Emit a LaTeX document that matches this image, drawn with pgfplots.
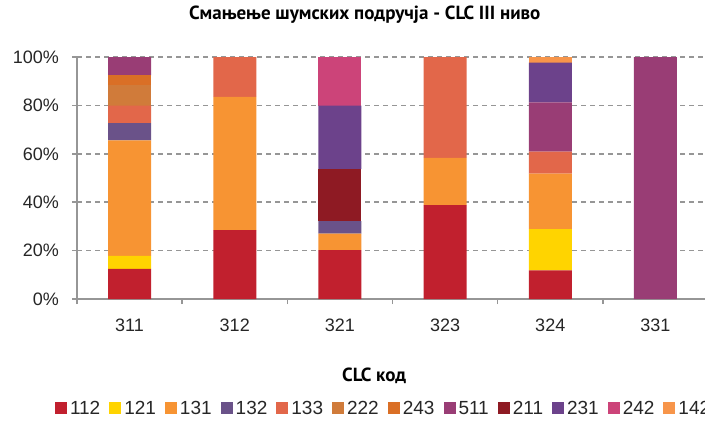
\documentclass[border=0pt]{standalone}
\usepackage{pgfplots}
\pgfplotsset{compat=1.18}
\usepackage{fontspec}
\setmainfont{Liberation Sans}
\newfontfamily\titlefont{PT Sans}
\definecolor{c112}{RGB}{193,32,46}
\definecolor{c121}{RGB}{255,212,0}
\definecolor{c131}{RGB}{247,148,51}
\definecolor{c132}{RGB}{106,82,137}
\definecolor{c133}{RGB}{226,103,74}
\definecolor{c222}{RGB}{208,123,58}
\definecolor{c243}{RGB}{218,111,38}
\definecolor{c511}{RGB}{153,61,117}
\definecolor{c211}{RGB}{142,26,35}
\definecolor{c231}{RGB}{108,66,139}
\definecolor{c242}{RGB}{204,68,121}
\definecolor{c142}{RGB}{247,149,74}
\definecolor{axgray}{RGB}{150,150,150}
\begin{document}
\begin{tikzpicture}
\useasboundingbox (0,0) rectangle (352.5pt,210pt);
\begin{axis}[
  at={(38.5pt,60.5pt)}, anchor=south west,
  scale only axis, width=315.5pt, height=121pt,
  xmin=-0.5, xmax=5.5, ymin=0, ymax=100,
  ybar stacked, bar width=21.5pt,
  axis lines=left,
  axis line style={-, axgray, line width=0.75pt},
  xtick={0,...,5}, xticklabels={311,312,321,323,324,331},
  minor xtick={-0.5,0.5,...,5.5},
  ytick={0,20,...,100},
  yticklabel={\pgfmathprintnumber{\tick}\%},
  tick align=outside, tick pos=left,
  major tick length=2.5pt, minor tick length=2.5pt,
  tick style={axgray, line width=0.75pt},
  major x tick style={draw=none},
  ymajorgrids,
  major y grid style={dash pattern=on 2.5pt off 2pt, axgray, line width=0.75pt},
  /pgf/number format/assume math mode=true,
  ticklabel style={font=\fontsize{9}{10}\selectfont, text=black!85},
  yticklabel style={xshift=-3pt},
  xticklabel style={yshift=-4pt},
  every axis title shift=0pt,
  title={Смањење шумских подручја - CLC III ниво},
  title style={at={(axis description cs:0.456,1.174)}, anchor=center, font=\titlefont\bfseries\fontsize{9.5}{11}\selectfont},
  xlabel={CLC код},
  xlabel style={at={(axis description cs:0.471,-0.318)}, anchor=center, font=\titlefont\bfseries\fontsize{9.5}{11}\selectfont},
  legend columns=-1,
  legend style={at={(axis description cs:-0.045,-0.45)}, anchor=west, draw=none, fill=none,
    font=\fontsize{9.5}{11}\selectfont, text=black!85,
    /tikz/every even column/.append style={column sep=3.0pt},
    nodes={inner sep=1.5pt, text height=1.4ex, text depth=0.1ex}},
  legend image code/.code={\fill[#1] (0pt,-3pt) rectangle (6pt,3pt);},
]
\addplot[fill=c112, draw=none] coordinates {(0,12.5) (1,28.5) (2,20.2) (3,38.8) (4,11.8) (5,0)};
\addplot[fill=c121, draw=none] coordinates {(0,5.3) (1,0) (2,0) (3,0) (4,17.1) (5,0)};
\addplot[fill=c131, draw=none] coordinates {(0,47.8) (1,55.0) (2,6.8) (3,19.5) (4,22.9) (5,0)};
\addplot[fill=c132, draw=none] coordinates {(0,7.1) (1,0) (2,5.2) (3,0) (4,0) (5,0)};
\addplot[fill=c133, draw=none] coordinates {(0,7.2) (1,16.5) (2,0) (3,41.7) (4,9.1) (5,0)};
\addplot[fill=c222, draw=none] coordinates {(0,8.4) (1,0) (2,0) (3,0) (4,0) (5,0)};
\addplot[fill=c243, draw=none] coordinates {(0,4.1) (1,0) (2,0) (3,0) (4,0) (5,0)};
\addplot[fill=c511, draw=none] coordinates {(0,7.6) (1,0) (2,0) (3,0) (4,20.4) (5,100)};
\addplot[fill=c211, draw=none] coordinates {(0,0) (1,0) (2,21.5) (3,0) (4,0) (5,0)};
\addplot[fill=c231, draw=none] coordinates {(0,0) (1,0) (2,26.2) (3,0) (4,16.4) (5,0)};
\addplot[fill=c242, draw=none] coordinates {(0,0) (1,0) (2,20.1) (3,0) (4,0) (5,0)};
\addplot[fill=c142, draw=none] coordinates {(0,0) (1,0) (2,0) (3,0) (4,2.3) (5,0)};
\legend{112,121,131,132,133,222,243,511,211,231,242,142}
\end{axis}
\end{tikzpicture}
\end{document}
